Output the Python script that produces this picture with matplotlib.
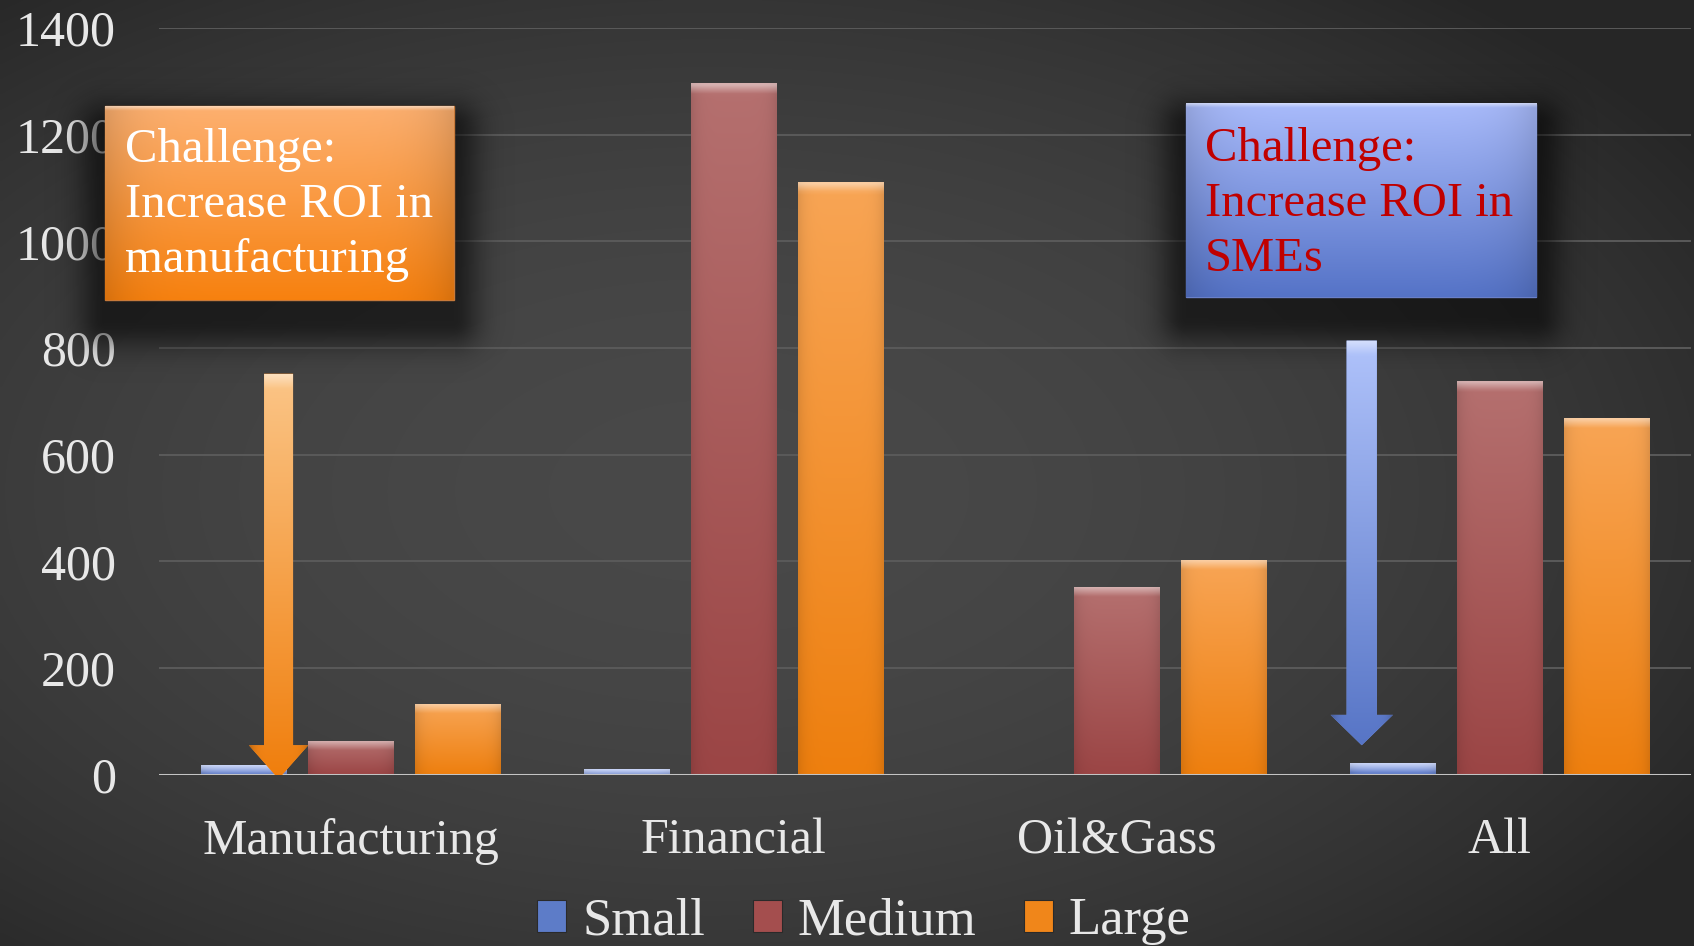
import numpy as np
import matplotlib
matplotlib.use('Agg')
import matplotlib.pyplot as plt
from matplotlib.patches import Rectangle, FancyArrow, Patch
from matplotlib.colors import to_rgb

# chart data
categories = ['Manufacturing', 'Financial', 'Oil&Gass', 'All']
series = ['Small', 'Medium', 'Large']
small = [18, 10, 0, 22]
medium = [63, 1297, 352, 739]
large = [132, 1112, 403, 669]
yticks = [0, 200, 400, 600, 800, 1000, 1200, 1400]

box_left_text = 'Challenge:\nIncrease ROI in\nmanufacturing'
box_right_text = 'Challenge:\nIncrease ROI in\nSMEs'

# (top colour, bottom colour, legend colour)
shades = {
    'Small': ('#a3b7f2', '#5c79c6', '#5d7cc8'),
    'Medium': ('#b5706f', '#9b4545', '#a44e4e'),
    'Large': ('#f8a555', '#ee7f0e', '#f0861a'),
}

plt.rcParams['font.family'] = ['Liberation Serif', 'DejaVu Serif']
txt_col = '#e8e8e8'

fig = plt.figure(figsize=(16.94, 9.46), dpi=100)

# background gradient
bg = fig.add_axes([0, 0, 1, 1], zorder=-10)
yy, xx = np.mgrid[0:1:240j, 0:1:420j]
d = ((xx - 0.42) / 0.75) ** 2 + ((yy - 0.52) / 0.75) ** 2
v = np.clip(0.285 - 0.16 * d, 0.15, 1)
bg.imshow(np.dstack([v, v, v]), extent=[0, 1, 0, 1], aspect='auto', interpolation='bilinear')
bg.set_axis_off()

ax = fig.add_axes([0.0939, 0.1812, 0.9044, 0.789])
ax.set_facecolor('none')

PX_X = 1532 / 4.0      # pixels per category
PX_Y = 746.6 / 1400.0  # pixels per unit


def fill_gradient(patch, top, bottom, zorder, bevel_px=9, edge=0.10):
    ext = patch.get_path().get_extents(patch.get_patch_transform())
    x0, y0, x1, y1 = ext.x0, ext.y0, ext.x1, ext.y1
    h_px = max((y1 - y0) * PX_Y, 1)
    t = np.linspace(0, 1, 160)[:, None]
    u = np.linspace(0, 1, 60)[None, :]
    c0 = np.array(to_rgb(top))
    c1 = np.array(to_rgb(bottom))
    img = c0[None, None, :] * (1 - t[..., None]) + c1[None, None, :] * t[..., None]
    img = img * np.ones((1, u.shape[1], 1))
    side = 1 - edge * np.abs(2 * u - 1) ** 6
    img = img * side[..., None]
    hl = np.clip(1 - t * h_px / bevel_px, 0, 1) * 0.45
    img = img * (1 - hl[..., None]) + hl[..., None]
    im = ax.imshow(np.clip(img, 0, 1), extent=[x0, x1, y0, y1], origin='upper',
                   aspect='auto', interpolation='bilinear', zorder=zorder)
    im.set_clip_path(patch)
    im.set_clip_on(patch.get_clip_on())
    return im


def shadow(x0, x1, y0, y1, off_px=22, blur_px=28):
    pad = 80
    nx, ny = 200, 140
    X0 = x0 - pad / PX_X
    X1 = x1 + pad / PX_X
    Y0 = y0 - (pad + off_px) / PX_Y
    Y1 = y1 + pad / PX_Y
    gx = np.linspace(X0, X1, nx)[None, :]
    gy = np.linspace(Y1, Y0, ny)[:, None]
    dx = np.maximum(np.maximum(x0 - gx, gx - x1), 0) * PX_X
    dy = np.maximum(np.maximum((y0 - off_px / PX_Y) - gy, gy - (y1 - off_px / PX_Y)), 0) * PX_Y
    dist = np.sqrt(dx ** 2 + dy ** 2)
    a = 0.55 * np.exp(-(dist / blur_px) ** 2)
    rgba = np.zeros((ny, nx, 4))
    rgba[..., 3] = a
    im = ax.imshow(rgba, extent=[X0, X1, Y0, Y1], origin='upper', aspect='auto',
                   interpolation='bilinear', zorder=6)
    im.set_clip_on(False)


x = np.arange(len(categories))
w = 0.223
step = 0.279
data = [small, medium, large]
for i, (name, vals) in enumerate(zip(series, data)):
    top, bottom, base = shades[name]
    bars = ax.bar(x + (i - 1) * step, vals, w, color=base, zorder=3, linewidth=0)
    for b in bars:
        if b.get_height() > 0:
            fill_gradient(b, top, bottom, zorder=4)

# grid and axis
for yt in yticks[1:]:
    ax.axhline(yt, color='#5a5a5a', lw=1.4, zorder=1)
ax.axhline(0, color='#c4c4c4', lw=2.2, zorder=5)

ax.set_xlim(-0.5, len(categories) - 0.5)
ax.set_ylim(0, 1400)
ax.set_yticks(yticks)
ax.set_yticklabels([str(t) for t in yticks])
ax.set_xticks(x)
ax.set_xticklabels(categories)
ax.tick_params(axis='y', length=0, pad=31, labelsize=36, labelcolor=txt_col)
ax.tick_params(axis='x', length=0, pad=31, labelsize=36, labelcolor=txt_col)
for s in ax.spines.values():
    s.set_visible(False)

# arrows
arr1 = FancyArrow(-0.188, 752, 0, -760, width=0.0757, head_width=0.155,
                  head_length=63, length_includes_head=True, color='#f39030',
                  lw=0, zorder=7)
ax.add_patch(arr1)
fill_gradient(arr1, '#fbc587', '#f07e0c', zorder=7, bevel_px=14, edge=0.25)

arr2 = FancyArrow(2.64, 814, 0, -759, width=0.079, head_width=0.163,
                  head_length=57, length_includes_head=True, color='#7a95e0',
                  lw=0, zorder=7)
ax.add_patch(arr2)
fill_gradient(arr2, '#b0c3fb', '#5775c6', zorder=7, bevel_px=14, edge=0.25)

# callout boxes
shadow(-0.641, 0.270, 891, 1254)
box1 = Rectangle((-0.641, 891), 0.911, 363, facecolor='#f7922e', edgecolor='#c87a3a',
                 lw=1, zorder=8, clip_on=False)
ax.add_patch(box1)
fill_gradient(box1, '#fdb070', '#f7810f', zorder=8, bevel_px=4, edge=0.12)
ax.text(-0.590, 1068, box_left_text, color='white', fontsize=35, va='center',
        ha='left', linespacing=1.33, zorder=9, clip_on=False)

shadow(2.180, 3.094, 895, 1258)
box2 = Rectangle((2.180, 895), 0.914, 363, facecolor='#7b93e0', edgecolor='#6a80c8',
                 lw=1, zorder=8, clip_on=False)
ax.add_patch(box2)
fill_gradient(box2, '#a9bbfb', '#5573c7', zorder=8, bevel_px=4, edge=0.12)
ax.text(2.231, 1070, box_right_text, color='#c00000', fontsize=35, va='center',
        ha='left', linespacing=1.33, zorder=9, clip_on=False)

# legend
handles = [Patch(facecolor=shades[n][2], edgecolor='#2a2a2a', lw=0.8) for n in series]
fig.legend(handles, series, loc='center', bbox_to_anchor=(0.51, 0.026), ncol=3,
           frameon=False, fontsize=38, handlelength=0.55, handleheight=0.55,
           handletextpad=0.3, columnspacing=0.9, labelcolor=txt_col)

fig.savefig('out.png', dpi=100)
